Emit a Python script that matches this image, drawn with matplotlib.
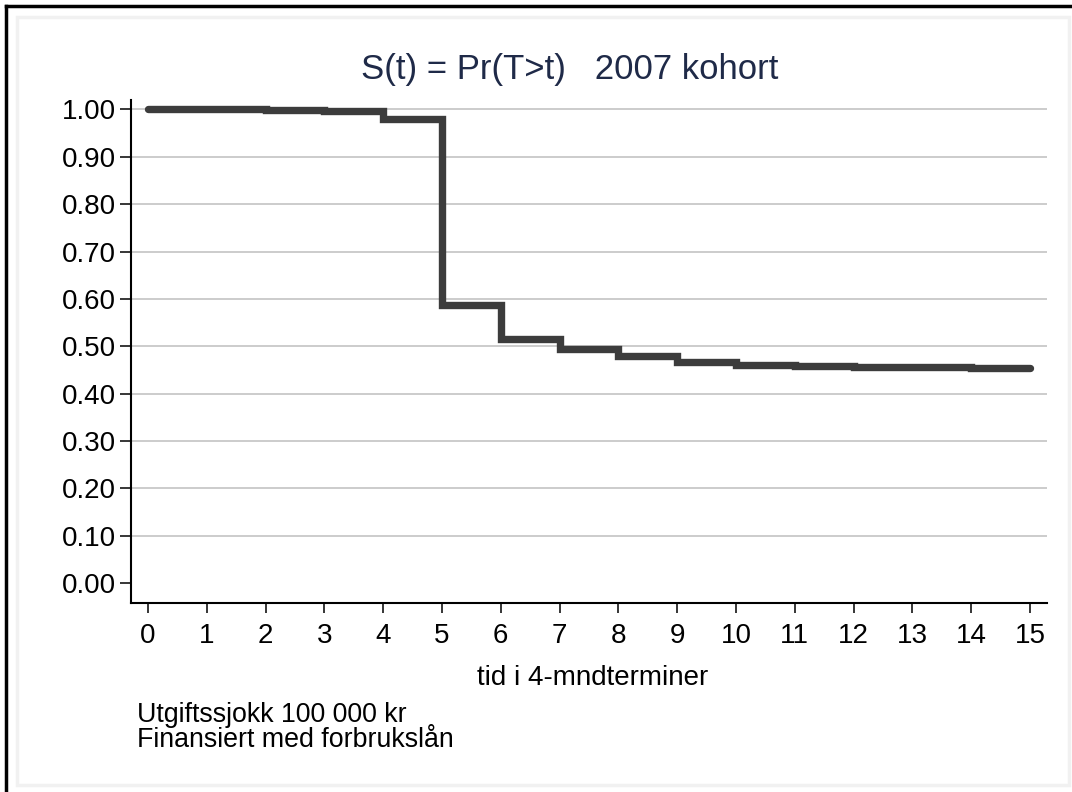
import matplotlib

matplotlib.use("Agg")
import matplotlib.pyplot as plt
from matplotlib.patches import Rectangle
from matplotlib.lines import Line2D

# Kaplan-Meier estimat, 2007 kohort
tid = [0, 2, 3, 4, 5, 6, 7, 8, 9, 10, 11, 12, 14, 15]
overlevelse = [1.000, 0.998, 0.996, 0.980, 0.588, 0.515, 0.494, 0.479,
               0.466, 0.461, 0.458, 0.456, 0.454, 0.454]

y_ticks = [0.0, 0.1, 0.2, 0.3, 0.4, 0.5, 0.6, 0.7, 0.8, 0.9, 1.0]
x_ticks = list(range(0, 16))

tittel = "S(t) = Pr(T>t)   2007 kohort"
x_tekst = "tid i 4-mndterminer"
notat = ["Utgiftssjokk 100 000 kr", "Finansiert med forbrukslån"]

plt.rcParams["font.family"] = ["Liberation Sans", "DejaVu Sans"]

W, H = 1072, 792
fig = plt.figure(figsize=(W / 100, H / 100), dpi=100)
fig.patch.set_facecolor("white")

# ramme: svak grå indre kant og svarte linjer topp/venstre
fig.patches.append(Rectangle((17 / W, 1 - 785 / H), (1069 - 17) / W, (785 - 17) / H,
                             transform=fig.transFigure, fill=False,
                             edgecolor="#f1f1f1", linewidth=2.5))
fig.lines.append(Line2D([6 / W, 1.0], [1 - 6 / H, 1 - 6 / H], transform=fig.transFigure,
                        color="black", linewidth=2.5))
fig.lines.append(Line2D([6 / W, 6 / W], [1 - 6 / H, 0.0], transform=fig.transFigure,
                        color="black", linewidth=2.5))

ax = fig.add_axes([131 / W, 1 - 603 / H, (1047 - 131) / W, (603 - 99.5) / H])
ax.set_facecolor("white")

ax.set_xlim(-0.289, 15.29)
ax.set_ylim(-0.042, 1.021)

for yv in y_ticks[1:]:
    ax.axhline(yv, color="#c4c4c4", linewidth=1.2, zorder=1)

ax.step(tid, overlevelse, where="post", color="#3c3c3c", linewidth=5.3,
        solid_capstyle="round", solid_joinstyle="miter", zorder=3)

ax.set_yticks(y_ticks)
ax.set_yticklabels([f"{v:.2f}" for v in y_ticks])
ax.set_xticks(x_ticks)

for side in ["top", "right"]:
    ax.spines[side].set_visible(False)
for side in ["left", "bottom"]:
    ax.spines[side].set_linewidth(1.5)
    ax.spines[side].set_color("black")

ax.tick_params(axis="y", length=8, width=1.1, pad=3, labelsize=20, colors="black")
ax.tick_params(axis="x", length=7.5, width=1.1, pad=7, labelsize=20, colors="black")

fig.text(570 / W, 1 - 70 / H, tittel, ha="center", va="center", fontsize=25,
         color="#1f2a48")
fig.text(593 / W, 1 - 685 / H, x_tekst, ha="center", va="baseline", fontsize=20)
fig.text(137 / W, 1 - 722 / H, notat[0], ha="left", va="baseline", fontsize=19.3)
fig.text(137 / W, 1 - 747 / H, notat[1], ha="left", va="baseline", fontsize=19.3)

fig.savefig("out.png", dpi=100)
